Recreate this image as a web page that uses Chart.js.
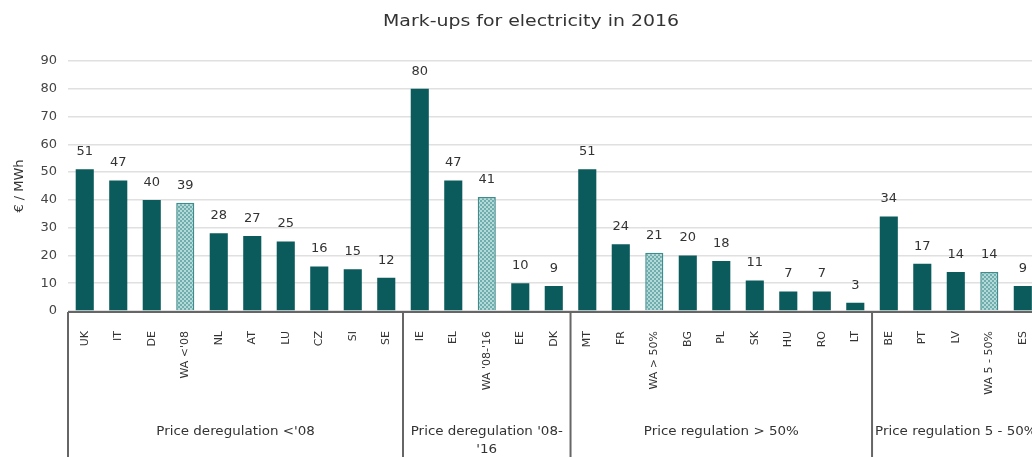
<!DOCTYPE html>
<html>
<head>
<meta charset="utf-8">
<script src="https://cdn.jsdelivr.net/npm/chart.js@4.4.1/dist/chart.umd.min.js"></script>
<style>
  html, body { margin: 0; padding: 0; background: #fff; overflow: hidden; }
  #wrap { width: 1048px; height: 457px; }
</style>
</head>
<body>
<div id="wrap"><canvas id="markupChart"></canvas></div>
<script>
// Country codes, left to right (WA = weighted average of the group)
const categories = [
    "UK", "IT", "DE", "WA <'08", "NL", "AT", "LU", "CZ", "SI", "SE",
    "IE", "EL", "WA '08-'16", "EE", "DK",
    "MT", "FR", "WA > 50%", "BG", "PL", "SK", "HU", "RO", "LT",
    "BE", "PT", "LV", "WA 5 - 50%", "ES"
];
// Mark-ups in €/MWh
const markups = [
    51, 47, 40, 39, 28, 27, 25, 16, 15, 12,
    80, 47, 41, 10, 9,
    51, 24, 21, 20, 18, 11, 7, 7, 3,
    34, 17, 14, 14, 9
];
const groupNames = [
    ["Price deregulation <'08"],
    ["Price deregulation '08-", "'16"],
    ["Price regulation > 50%"],
    ["Price regulation 5 - 50%"]
];
const groupSizes = [10, 5, 9, 5];

const FONT = "'DejaVu Sans', sans-serif";
const barColor = '#0b5b5d';

// checkered fill for the weighted average bars
function makeHatch() {
    const c = document.createElement('canvas');
    c.width = 4;
    c.height = 4;
    const g = c.getContext('2d');
    g.fillStyle = '#b3d9d9';
    g.fillRect(0, 0, 4, 4);
    g.fillStyle = '#70adad';
    g.fillRect(0, 0, 2, 2);
    g.fillRect(2, 2, 2, 2);
    return g.createPattern(c, 'repeat');
}
const hatch = makeHatch();

const isAverage = categories.map(c => c.startsWith('WA'));

// text stretched a little wider, like the original export
function wideText(ctx, text, x, y, sx) {
    ctx.save();
    ctx.translate(x, y);
    ctx.scale(sx, 1);
    ctx.fillText(text, 0, 0);
    ctx.restore();
}

const extrasPlugin = {
    id: 'extras',
    afterDatasetsDraw(chart) {
        const ctx = chart.ctx;
        const meta = chart.getDatasetMeta(0);
        ctx.save();
        ctx.font = '13px ' + FONT;
        ctx.fillStyle = '#333';
        ctx.textAlign = 'center';
        ctx.textBaseline = 'bottom';
        meta.data.forEach((bar, i) => {
            ctx.fillText(String(markups[i]), bar.x, bar.y - 11);
        });
        ctx.restore();
    },
    afterDraw(chart) {
        const ctx = chart.ctx;
        const x = chart.scales.x;
        const area = chart.chartArea;
        const step = (x.right - x.left) / categories.length;
        ctx.save();

        // title
        ctx.font = '16px ' + FONT;
        ctx.fillStyle = '#333';
        ctx.textAlign = 'center';
        ctx.textBaseline = 'middle';
        wideText(ctx, 'Mark-ups for electricity in 2016', 531, 22, 1.18);

        // axis line
        ctx.strokeStyle = '#666';
        ctx.lineWidth = 2;
        ctx.beginPath();
        ctx.moveTo(x.left, area.bottom + 1);
        ctx.lineTo(x.right, area.bottom + 1);
        ctx.stroke();

        // group separators and names
        let start = 0;
        ctx.font = '12px ' + FONT;
        groupSizes.forEach((n, gi) => {
            const gx = x.left + start * step;
            ctx.beginPath();
            ctx.moveTo(gx, area.bottom + 1);
            ctx.lineTo(gx, chart.height);
            ctx.stroke();
            const cx = x.left + (start + n / 2) * step;
            groupNames[gi].forEach((line, li) => {
                wideText(ctx, line, cx, 432 + li * 18, 1.12);
            });
            start += n;
        });
        ctx.restore();
    }
};

new Chart(document.getElementById('markupChart'), {
    type: 'bar',
    data: {
        labels: categories,
        datasets: [{
            data: markups,
            backgroundColor: isAverage.map(a => a ? hatch : barColor),
            borderColor: isAverage.map(a => a ? '#3f8c8c' : barColor),
            borderWidth: isAverage.map(a => a ? 1.5 : 0),
            categoryPercentage: 1,
            barPercentage: 0.54
        }]
    },
    options: {
        responsive: true,
        maintainAspectRatio: false,
        animation: false,
        layout: { padding: { top: 61, right: 0 } },
        plugins: {
            legend: { display: false },
            tooltip: { enabled: false },
            title: { display: false }
        },
        scales: {
            x: {
                grid: { display: false },
                border: { display: false },
                ticks: {
                    minRotation: 90,
                    maxRotation: 90,
                    autoSkip: false,
                    padding: 12,
                    color: '#333',
                    font: { family: FONT, size: 11 }
                },
                afterFit(scale) { scale.height = 146; }
            },
            y: {
                min: 0,
                max: 90,
                ticks: {
                    stepSize: 10,
                    padding: 11,
                    color: '#444',
                    font: { family: FONT, size: 13 }
                },
                grid: { color: '#e0e0e0', lineWidth: 1.5, drawTicks: false },
                border: { display: false },
                title: {
                    display: true,
                    text: '€ / MWh',
                    color: '#333',
                    padding: { top: 12, bottom: 0 },
                    font: { family: FONT, size: 13 }
                },
                afterFit(scale) { scale.width = 68; }
            }
        }
    },
    plugins: [extrasPlugin]
});
</script>
</body>
</html>
